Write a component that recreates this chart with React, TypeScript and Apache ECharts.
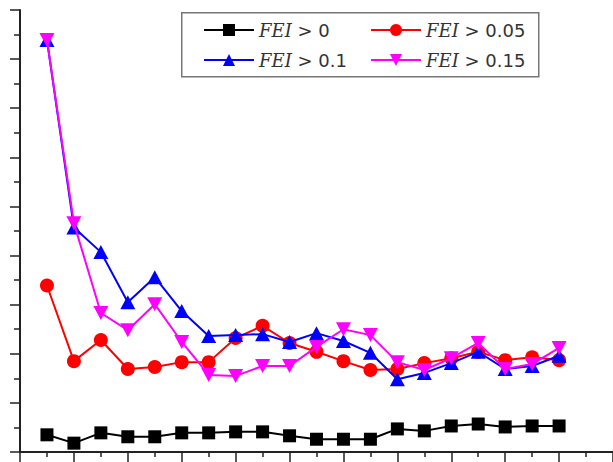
import React, { useEffect, useRef } from "react";
import * as echarts from "echarts";

const xValues = [1, 2, 3, 4, 5, 6, 7, 8, 9, 10, 11, 12, 13, 14, 15, 16, 17, 18, 19, 20];
const seriesNames = ["FEI > 0", "FEI > 0.05", "FEI > 0.1", "FEI > 0.15"];
const fei0 = [0.35, 0.18, 0.39, 0.31, 0.31, 0.39, 0.39, 0.41, 0.41, 0.33, 0.26, 0.26, 0.26, 0.47, 0.43, 0.53, 0.57, 0.51, 0.53, 0.53];
const fei005 = [3.39, 1.85, 2.28, 1.69, 1.73, 1.83, 1.83, 2.32, 2.57, 2.22, 2.04, 1.85, 1.67, 1.69, 1.81, 1.91, 2.04, 1.87, 1.93, 1.87];
const fei01 = [8.39, 4.57, 4.07, 3.05, 3.56, 2.87, 2.36, 2.38, 2.4, 2.24, 2.42, 2.26, 2.02, 1.48, 1.61, 1.81, 2.04, 1.69, 1.75, 1.96];
const fei015 = [8.39, 4.66, 2.83, 2.48, 3.01, 2.24, 1.57, 1.55, 1.75, 1.75, 2.14, 2.5, 2.38, 1.83, 1.67, 1.91, 2.22, 1.69, 1.79, 2.12];

const colors = ["#000000", "#ff0000", "#0000ff", "#ff00ff"];
const symbols = ["rect", "circle", "triangle", "path://M0,0 L10,0 L5,9 Z"];
const symbolSizes = [13, 14, [15, 14], [15, 14]];
const allValues = [fei0, fei005, fei01, fei015];

export default function App() {
  const ref = useRef<HTMLDivElement>(null);
  useEffect(() => {
    if (!ref.current) return;
    const chart = echarts.init(ref.current, undefined, { renderer: "svg" });
    const legendText = {
      fontFamily: "DejaVu Sans",
      fontSize: 18,
      color: "#333",
      lineHeight: 20,
      rich: {
        i: {
          fontFamily: "DejaVu Serif",
          fontStyle: "italic",
          fontSize: 18,
          color: "#333",
          lineHeight: 20,
        },
      },
    };
    const legendCommon = {
      orient: "vertical",
      top: 15,
      itemWidth: 50,
      itemHeight: 15,
      itemGap: 10,
      selectedMode: false,
      formatter: (n: string) => n.replace("FEI", "{i|FEI}"),
      textStyle: legendText,
    };
    chart.setOption({
      animation: false,
      grid: { left: 20, right: 0, top: 10, bottom: 10 },
      graphic: [
        {
          type: "rect",
          left: 181,
          top: 12,
          shape: { x: 0, y: 0, width: 357, height: 64 },
          style: { fill: "#ffffff", stroke: "#777777", lineWidth: 1.5 },
          z: 0,
        },
      ],
      legend: [
        { ...legendCommon, left: 198, data: [seriesNames[0], seriesNames[2]] },
        { ...legendCommon, left: 365, data: [seriesNames[1], seriesNames[3]] },
      ],
      xAxis: {
        type: "value",
        min: 0,
        max: 22,
        interval: 2,
        axisLine: { show: true, lineStyle: { color: "#222", width: 2 } },
        axisTick: { show: true, length: 10, lineStyle: { color: "#222", width: 1.5 } },
        minorTick: { show: true, splitNumber: 2, length: 5, lineStyle: { color: "#222", width: 1.5 } },
        axisLabel: { show: false },
        splitLine: { show: false },
        minorSplitLine: { show: false },
      },
      yAxis: {
        type: "value",
        min: 0,
        max: 9,
        interval: 1,
        axisLine: { show: true, lineStyle: { color: "#222", width: 2 } },
        axisTick: { show: true, length: 10, lineStyle: { color: "#222", width: 1.5 } },
        minorTick: { show: true, splitNumber: 2, length: 6, lineStyle: { color: "#222", width: 1.5 } },
        axisLabel: { show: false },
        splitLine: { show: false },
        minorSplitLine: { show: false },
      },
      series: seriesNames.map((name, i) => ({
        name,
        type: "line",
        data: xValues.map((x, j) => [x, allValues[i][j]]),
        symbol: symbols[i],
        symbolSize: symbolSizes[i],
        showAllSymbol: true,
        color: colors[i],
        lineStyle: { color: colors[i], width: 2 },
        itemStyle: { color: colors[i] },
        z: 2 + i,
      })),
    });
    return () => chart.dispose();
  }, []);
  return (
    <div
      ref={ref}
      style={{ position: "fixed", left: 0, top: 0, width: 613, height: 462, background: "#fff" }}
    />
  );
}
